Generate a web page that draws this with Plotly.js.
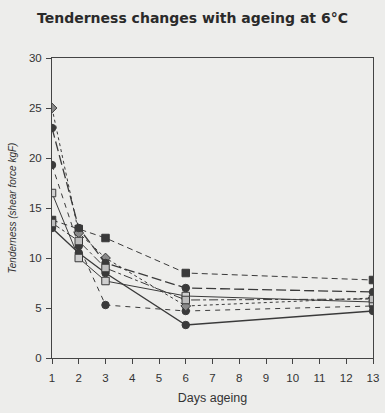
<!DOCTYPE html>
<html><head><meta charset="utf-8">
<script src="https://cdn.plot.ly/plotly-3.0.1.min.js"></script>
<style>html,body{margin:0;padding:0;background:#ededeb;}</style>
</head><body>
<div id="chart" style="width:385px;height:413px;"></div>
<script>
const days = [1, 2, 3, 6, 13];
const seriesA = [13.8, 12.9, 12.0, 8.5, 7.8];
const seriesB = [13.0, 10.5, 8.5, 3.3, 4.7];
const seriesC = [19.3, 11.2, 5.3, 4.7, 5.2];
const seriesD = [25.0, 12.5, 10.0, 5.2, 6.0];
const seriesE = [23.0, 13.0, 9.5, 7.0, 6.6];
const seriesF = [16.5, 10.0, 7.7, 6.2, 5.6];
const seriesG = [13.5, 11.7, 9.0, 5.8, 5.9];
const xTicks = [1,2,3,4,5,6,7,8,9,10,11,12,13];
const yTicks = [0,5,10,15,20,25,30];

const dark = '#3a3a3a';
function tr(y, dash, sym, fill, w) {
  return {x: days, y: y, type: 'scatter', mode: 'lines+markers',
    line: {color: dark, width: w || 1, dash: dash},
    marker: {symbol: sym, size: 7.5, color: fill, line: {color: dark, width: 1}},
    showlegend: false};
}
const data = [
  tr(seriesA, '6px,4px', 'square', '#3a3a3a'),
  tr(seriesB, 'solid', 'circle', '#3a3a3a', 1.3),
  tr(seriesC, '5px,5px', 'circle', '#3a3a3a'),
  tr(seriesD, 'dot', 'diamond', '#8a8a8a'),
  tr(seriesE, '10px,4px', 'circle', '#3a3a3a', 1.3),
  tr(seriesF, 'solid', 'square', '#cfcfcf'),
  tr(seriesG, 'dashdot', 'square', '#bdbdbd')
];
const layout = {
  width: 385, height: 413,
  paper_bgcolor: '#ededeb', plot_bgcolor: '#ededeb',
  margin: {l: 52, r: 12, t: 58, b: 55},
  title: {text: '<b>Tenderness changes with ageing at 6°C</b>', x: 0.5, xanchor: 'center', y: 0.955, yanchor: 'middle',
    font: {family: 'DejaVu Sans, Arial, sans-serif', size: 14, color: '#2a2a2a'}},
  font: {family: 'Liberation Sans, Arial, sans-serif', size: 11.5, color: '#333'},
  xaxis: {range: [1, 13], tickvals: xTicks, ticktext: xTicks.map(String), showgrid: false, zeroline: false,
    showline: true, linecolor: '#444', linewidth: 1, mirror: true, ticks: 'outside', ticklen: 5, tickcolor: '#444',
    ticklabelstandoff: 4,
    title: {text: 'Days ageing', font: {size: 12.5, color: '#333'}, standoff: 10}},
  yaxis: {range: [0, 30], tickvals: yTicks, showgrid: false, zeroline: false,
    showline: true, linecolor: '#444', linewidth: 1, mirror: true, ticks: 'outside', ticklen: 5, tickcolor: '#444',
    ticklabelstandoff: 2,
    title: {text: '<i>Tenderness (shear force kgF)</i>', font: {size: 10, color: '#333'}, standoff: 10}}
};
Plotly.newPlot('chart', data, layout, {displayModeBar: false, staticPlot: true});
</script>
</body></html>
